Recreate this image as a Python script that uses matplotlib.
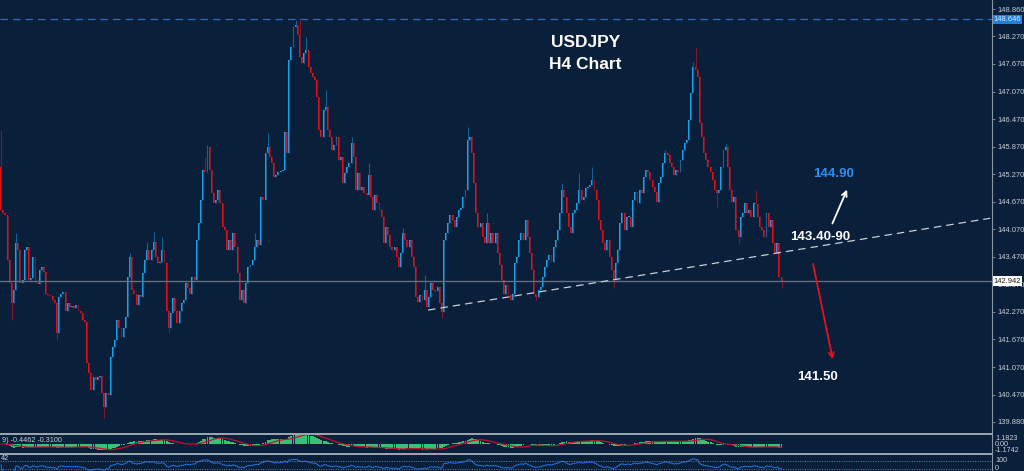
import matplotlib
matplotlib.use('Agg')
import matplotlib.pyplot as plt
import numpy as np
import pandas as pd

plt.rcParams['font.family'] = ['Liberation Sans', 'DejaVu Sans']

# USDJPY H4 closes (left to right)
closes = [
    144.48, 144.42, 144.37, 143.39, 142.89, 142.46, 142.74, 143.77, 143.61, 142.89,
    142.96, 143.61, 143.68, 142.96, 143.00, 143.46, 142.89, 142.87, 143.18, 143.24,
    143.13, 142.67, 142.63, 142.61, 142.52, 142.46, 141.80, 142.59, 142.67, 142.70,
    142.30, 142.46, 142.37, 142.39, 142.35, 142.41, 142.30, 142.24, 142.09, 142.04,
    141.15, 140.93, 140.56, 140.85, 140.78, 140.85, 140.87, 140.50, 140.19, 140.50,
    140.45, 141.28, 141.50, 141.65, 142.09, 141.93, 141.72, 141.93, 142.15, 143.02,
    143.46, 142.74, 142.67, 142.41, 142.63, 142.59, 143.11, 143.39, 143.61, 143.39,
    143.61, 143.79, 143.46, 143.33, 143.35, 143.61, 143.33, 142.30, 141.93, 142.24,
    142.57, 142.30, 142.02, 142.30, 142.46, 142.52, 142.89, 142.80, 142.67, 143.02,
    142.96, 143.83, 144.20, 144.70, 145.36, 145.31, 145.86, 145.36, 144.85, 144.64,
    144.70, 144.92, 144.64, 144.11, 144.05, 143.61, 143.83, 143.61, 143.98, 143.68,
    143.11, 142.52, 142.74, 142.46, 142.89, 143.24, 143.29, 143.39, 143.68, 143.83,
    143.72, 144.77, 144.70, 145.73, 145.86, 145.64, 145.51, 145.20, 145.25, 145.31,
    145.33, 145.36, 146.18, 145.73, 147.75, 148.04, 148.47, 148.52, 148.30, 147.82,
    147.69, 147.91, 147.97, 147.60, 147.47, 147.38, 147.32, 146.95, 146.23, 146.07,
    146.66, 146.73, 146.23, 146.07, 145.79, 145.90, 146.07, 145.57, 145.64, 145.07,
    145.29, 145.42, 145.51, 145.94, 145.64, 144.92, 145.29, 144.92, 144.99, 144.85,
    144.81, 145.25, 144.77, 144.48, 144.81, 144.64, 144.48, 144.33, 143.77, 144.11,
    143.94, 143.68, 143.61, 143.68, 143.46, 143.24, 143.55, 143.98, 143.83, 143.68,
    143.83, 143.46, 143.24, 142.59, 142.48, 142.63, 142.52, 142.74, 142.37, 142.59,
    142.89, 142.74, 142.72, 142.81, 142.46, 142.26, 143.83, 143.98, 144.20, 144.37,
    144.27, 144.11, 144.33, 144.48, 144.53, 144.77, 144.92, 146.01, 146.07, 145.73,
    145.07, 144.42, 144.11, 144.20, 143.90, 143.77, 144.20, 143.77, 143.98, 143.77,
    143.98, 143.55, 143.29, 142.96, 142.67, 142.85, 142.63, 142.52, 142.67, 143.33,
    143.46, 143.83, 143.98, 143.83, 144.27,
    143.90, 143.55, 143.18, 142.67, 142.59, 142.74, 142.81, 143.02, 143.24, 143.39,
    143.50, 143.35, 143.68, 143.83, 144.05, 144.42, 144.92, 144.77, 144.42, 144.11,
    143.98, 144.42, 144.50, 144.64, 144.92, 144.70, 144.77, 144.96, 144.99, 145.03,
    145.14, 144.92, 144.70, 144.27, 144.05, 143.77, 143.61, 143.83, 143.46, 143.18,
    142.96, 143.33, 143.61, 144.20, 144.42, 144.05, 144.33, 144.33, 144.11, 144.70,
    144.88, 144.64, 144.92, 144.85, 145.20, 145.36,
    145.31, 145.14, 144.99, 144.88, 144.66, 145.07, 145.20, 145.51, 145.73, 145.68,
    145.51, 145.42, 145.25, 145.36, 145.31, 145.57, 145.79, 145.94, 146.01, 146.45,
    147.03, 147.60, 147.53, 147.38, 146.38, 146.07, 145.73, 145.57, 145.42, 145.31,
    145.14, 144.92, 144.85, 144.92, 145.42, 145.79, 145.86, 145.42, 144.92, 144.66,
    144.77, 144.05, 143.90, 144.33, 144.42, 144.64, 144.42, 144.48, 144.33, 144.64,
    144.62, 144.33, 144.11, 144.05, 143.90, 144.42, 144.11, 144.27, 143.77, 143.55,
    143.77, 143.02, 142.94,
]
first_open = 145.42

# visible wick extremes (candle index -> price)
wick_hi = {0: 146.23, 7: 143.98, 60: 143.55, 68: 143.79, 71: 144.00, 75: 143.90,
           95: 145.64, 96: 145.90, 118: 143.98, 124: 146.16, 137: 148.62,
           139: 148.65, 142: 148.25, 151: 147.10, 163: 146.07, 171: 145.51,
           187: 144.09, 197: 143.07, 217: 146.29, 226: 144.42, 261: 145.07,
           269: 145.29, 275: 145.42, 309: 145.79, 322: 147.71, 323: 148.01,
           337: 145.92, 351: 144.92}
wick_lo = {5: 142.09, 26: 141.65, 48: 139.95, 78: 141.80, 205: 142.13,
           249: 142.52, 285: 142.80, 333: 144.55, 343: 143.77, 363: 142.80}

price_ticks = [148.860, 148.270, 147.670, 147.070, 146.470, 145.870, 145.270,
               144.670, 144.070, 143.470, 142.870, 142.270, 141.670, 141.070,
               140.470, 139.880]
high_level = 148.646
last_price = 142.942
trend_x = [198.6, 460.0]
trend_y = [142.31, 144.31]

BG = '#0a1f3a'
BULL, BULL_W = '#1aa6ee', '#176292'
BEAR, BEAR_W = '#e8101a', '#86172a'
AXC = '#8a96a3'
TXT = '#c8d0d8'
YLO, YHI = 139.633, 149.063

W, H = 1024, 471
fig = plt.figure(figsize=(W / 100, H / 100), dpi=100)
fig.patch.set_facecolor(BG)

def frac(x0, y0, x1, y1):
    return [x0 / W, 1 - y1 / H, (x1 - x0) / W, (y1 - y0) / H]

ax = fig.add_axes(frac(0, 0, 992, 433))
ax2 = fig.add_axes(frac(0, 435, 992, 453))
ax3 = fig.add_axes(frac(0, 455, 992, 471))

n = len(closes)
idx = np.arange(n)
c = np.array(closes)
o = np.concatenate([[first_open], c[:-1]])
h = np.maximum(o, c)
l = np.minimum(o, c)
for k, v in wick_hi.items():
    h[k] = max(h[k], v)
for k, v in wick_lo.items():
    l[k] = min(l[k], v)
up = c >= o
dn = ~up

xlim = (-0.5, 992 / 2.15 - 0.5)
for a in (ax, ax2, ax3):
    a.set_facecolor(BG)
    a.set_xlim(*xlim)
    a.set_xticks([])
    for s in a.spines.values():
        s.set_visible(False)

# candles
ax.vlines(idx[up], l[up], h[up], color=BULL_W, lw=0.8)
ax.vlines(idx[dn], l[dn], h[dn], color=BEAR_W, lw=0.8)
body = np.maximum(np.abs(c - o), 0.025)
ax.bar(idx[up], body[up], bottom=o[up], width=0.9, color=BULL, lw=0)
ax.bar(idx[dn], body[dn], bottom=c[dn], width=0.9, color=BEAR, lw=0)

ax.axhline(high_level, color='#2a6fb8', lw=0.9, ls=(0, (6, 4)))
ax.axhline(last_price, color='#5f6f80', lw=1.0)
ax.plot(trend_x, trend_y, color='#c9cfd6', lw=0.9, ls=(0, (6, 4)))

ax.set_ylim(YLO, YHI)
ax.yaxis.tick_right()
ax.set_yticks(price_ticks)
ax.set_yticklabels(['%.3f' % t for t in price_ticks])
ax.tick_params(axis='y', colors=AXC, labelcolor=TXT, labelsize=5.4, length=2, width=0.6, pad=2)

ax.text(993 / 992, (high_level - YLO) / (YHI - YLO), '%.3f' % high_level,
        transform=ax.transAxes, fontsize=5.4, color='#d8ecff', va='center', ha='left',
        bbox=dict(boxstyle='square,pad=0.15', fc='#1f7fe0', ec='none'), clip_on=False, zorder=5)
ax.text(993 / 992, (last_price - YLO) / (YHI - YLO), '%.3f' % last_price,
        transform=ax.transAxes, fontsize=5.4, color='#1a1a1a', va='center', ha='left',
        bbox=dict(boxstyle='square,pad=0.15', fc='white', ec='none'), clip_on=False, zorder=5)

# annotations
ax.text(0.590, 0.901, 'USDJPY', transform=ax.transAxes, color='white', fontsize=12.5,
        fontweight='bold', ha='center', va='center')
ax.text(0.590, 0.852, 'H4 Chart', transform=ax.transAxes, color='white', fontsize=12.5,
        fontweight='bold', ha='center', va='center')
ax.text(0.840, 0.598, '144.90', transform=ax.transAxes, color='#2e8ff0', fontsize=9.5,
        fontweight='bold', ha='center', va='center')
ax.text(0.827, 0.453, '143.40-90', transform=ax.transAxes, color='white', fontsize=9.5,
        fontweight='bold', ha='center', va='center')
ax.text(0.824, 0.129, '141.50', transform=ax.transAxes, color='white', fontsize=9.5,
        fontweight='bold', ha='center', va='center')
ax.annotate('', xy=(0.855, 0.568), xytext=(0.838, 0.478), xycoords='axes fraction',
            arrowprops=dict(arrowstyle='->', color='white', lw=1.3, mutation_scale=9))
ax.annotate('', xy=(0.840, 0.164), xytext=(0.819, 0.397), xycoords='axes fraction',
            arrowprops=dict(arrowstyle='->', color='#e8101a', lw=1.3, mutation_scale=9))

# MACD panel (12,26,9) from the closes
s = pd.Series(c)
macd = s.ewm(span=12, adjust=False).mean() - s.ewm(span=26, adjust=False).mean()
signal = macd.rolling(9, min_periods=1).mean()
ax2.bar(idx, macd, width=0.9, color='#35c277', lw=0)
ax2.plot(idx, signal, color='#c8102e', lw=0.9)
m = max(abs(macd).max(), 0.1) * 0.85
ax2.set_ylim(-m, m)
ax2.set_yticks([])

# oscillator panel
d = s.diff().fillna(0)
gain = d.clip(lower=0).ewm(alpha=1 / 14, adjust=False).mean()
loss = (-d.clip(upper=0)).ewm(alpha=1 / 14, adjust=False).mean()
rsi = (100 - 100 / (1 + gain / loss.replace(0, np.nan))).fillna(50)
ax3.plot(idx, rsi, color='#1f6fd6', lw=0.8)
for lv in (70, 30):
    ax3.axhline(lv, color='#6f7f90', lw=0.7, ls=(0, (1, 1.5)))
ax3.set_ylim(20, 100)
ax3.set_yticks([])

# panel separators and price axis line
for y0 in (433, 453):
    fig.add_artist(plt.Rectangle((0, 1 - (y0 + 2) / H), 992 / W, 2 / H,
                                 transform=fig.transFigure, color='#9aa4ae', lw=0))
fig.add_artist(plt.Line2D([992 / W, 992 / W], [0, 1], transform=fig.transFigure,
                          color=AXC, lw=0.8))

def ftext(x, y, t, **kw):
    fig.text(x / W, 1 - y / H, t, fontsize=5.2, color=TXT, va='center', **kw)

ftext(2, 440, '9) -0.4462 -0.3100')
ftext(1, 458, '42')
ftext(995, 438, '1.1823')
ftext(995, 444, '0.00')
ftext(995, 450, '-1.1742')
ftext(995, 461, '100')
ftext(995, 468, '0')

fig.savefig('out.png', dpi=100, facecolor=BG)
